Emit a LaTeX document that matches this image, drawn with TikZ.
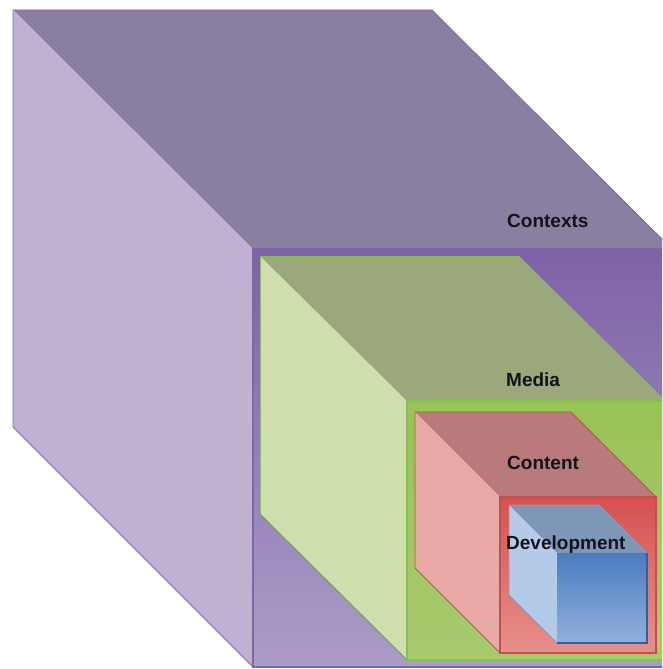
\documentclass[tikz,border=0pt]{standalone}
\usepackage{fontspec}
\setmainfont{Liberation Sans}
% Face colours of the four nested boxes
\definecolor{ctxTop}{HTML}{8A7FA0}
\definecolor{ctxLeft}{HTML}{BEB2D0}
\definecolor{ctxFrontA}{HTML}{7E62A7}
\definecolor{ctxFrontB}{HTML}{AC9CC8}
\definecolor{ctxLine}{HTML}{7C68A6}
\definecolor{medTop}{HTML}{9BA97A}
\definecolor{medLeft}{HTML}{CFDFAB}
\definecolor{medFrontA}{HTML}{98C355}
\definecolor{medFrontB}{HTML}{A8CA6E}
\definecolor{medLine}{HTML}{86BE58}
\definecolor{conTop}{HTML}{B87A7A}
\definecolor{conLeft}{HTML}{E9A9A7}
\definecolor{conFrontA}{HTML}{D6514D}
\definecolor{conFrontB}{HTML}{E8908A}
\definecolor{conLine}{HTML}{C0504D}
\definecolor{devTop}{HTML}{7E97B8}
\definecolor{devLeft}{HTML}{B3CBE8}
\definecolor{devFrontA}{HTML}{4A7CC0}
\definecolor{devFrontB}{HTML}{91B1DC}
\definecolor{devLine}{HTML}{3B5C94}
\definecolor{lblText}{HTML}{14121E}
\begin{document}
\begin{tikzpicture}[x=1pt,y=-1pt,
  lbl/.style={anchor=base west,inner sep=0pt,text=lblText,
    font=\fontsize{19}{21}\selectfont\bfseries},
  faceedge/.style={line width=0.8pt,line join=miter}]
\useasboundingbox (0,0) rectangle (662,669);
\clip (0,0) rectangle (662,669);

% Contexts (outer box)
\fill[ctxTop] (13,10) -- (432,10) -- (672,249) -- (253,249) -- cycle;
\fill[ctxLeft] (13,10) -- (253,249) -- (253,667) -- (13,427) -- cycle;
\shade[top color=ctxFrontA, bottom color=ctxFrontB] (253,249) rectangle (672,667);
\draw[faceedge,ctxLine] (13,10) -- (432,10) -- (672,249);
\draw[faceedge,ctxLine] (13,10) -- (13,427) -- (253,667) -- (672,667);
\draw[ctxLine,line width=1.5pt] (253,249) rectangle (672,667);

% Media
\fill[medTop] (260,256) -- (519,256) -- (666,401) -- (407,401) -- cycle;
\fill[medLeft] (260,256) -- (407,401) -- (407,660) -- (260,514) -- cycle;
\shade[top color=medFrontA, bottom color=medFrontB] (407,401) rectangle (666,660);
\draw[faceedge,medLine!80!black] (260,514) -- (407,660) -- (666,660);
\draw[faceedge,medLine] (260,256) -- (519,256);
\draw[faceedge,medLine] (260,256) -- (260,514);
\draw[medLine,line width=1.5pt] (407,401) rectangle (666,660);

% Content
\fill[conTop] (415,412) -- (571,412) -- (656,497) -- (500,497) -- cycle;
\fill[conLeft] (415,412) -- (500,497) -- (500,653) -- (415,568) -- cycle;
\shade[top color=conFrontA, bottom color=conFrontB] (500,497) rectangle (656,653);
\draw[faceedge,conLine] (415,412) -- (571,412) -- (656,497);
\draw[faceedge,conLine] (415,412) -- (415,568) -- (500,653);
\draw[conLine,line width=1.3pt] (500,497) rectangle (656,653);

% Development (closed box)
\fill[devTop] (509,505) -- (599,505) -- (647,553) -- (557,553) -- cycle;
\fill[devLeft] (509,505) -- (557,553) -- (557,643) -- (509,595) -- cycle;
\shade[top color=devFrontA, bottom color=devFrontB] (557,553) rectangle (647,643);
\draw[faceedge,devLine!60] (509,505) -- (599,505) -- (647,553);
\draw[faceedge,devLine!60] (509,505) -- (509,595) -- (557,643);
\draw[devLine,line width=1.2pt] (557,643) -- (647,643) -- (647,553);

% Labels
\node[lbl] (contexts) at (507,227) {Contexts};
\node[lbl] (media) at (506,386) {Media};
\node[lbl] (content) at (507,469) {Content};
\node[lbl] (development) at (506,549) {Development};
\end{tikzpicture}
\end{document}
